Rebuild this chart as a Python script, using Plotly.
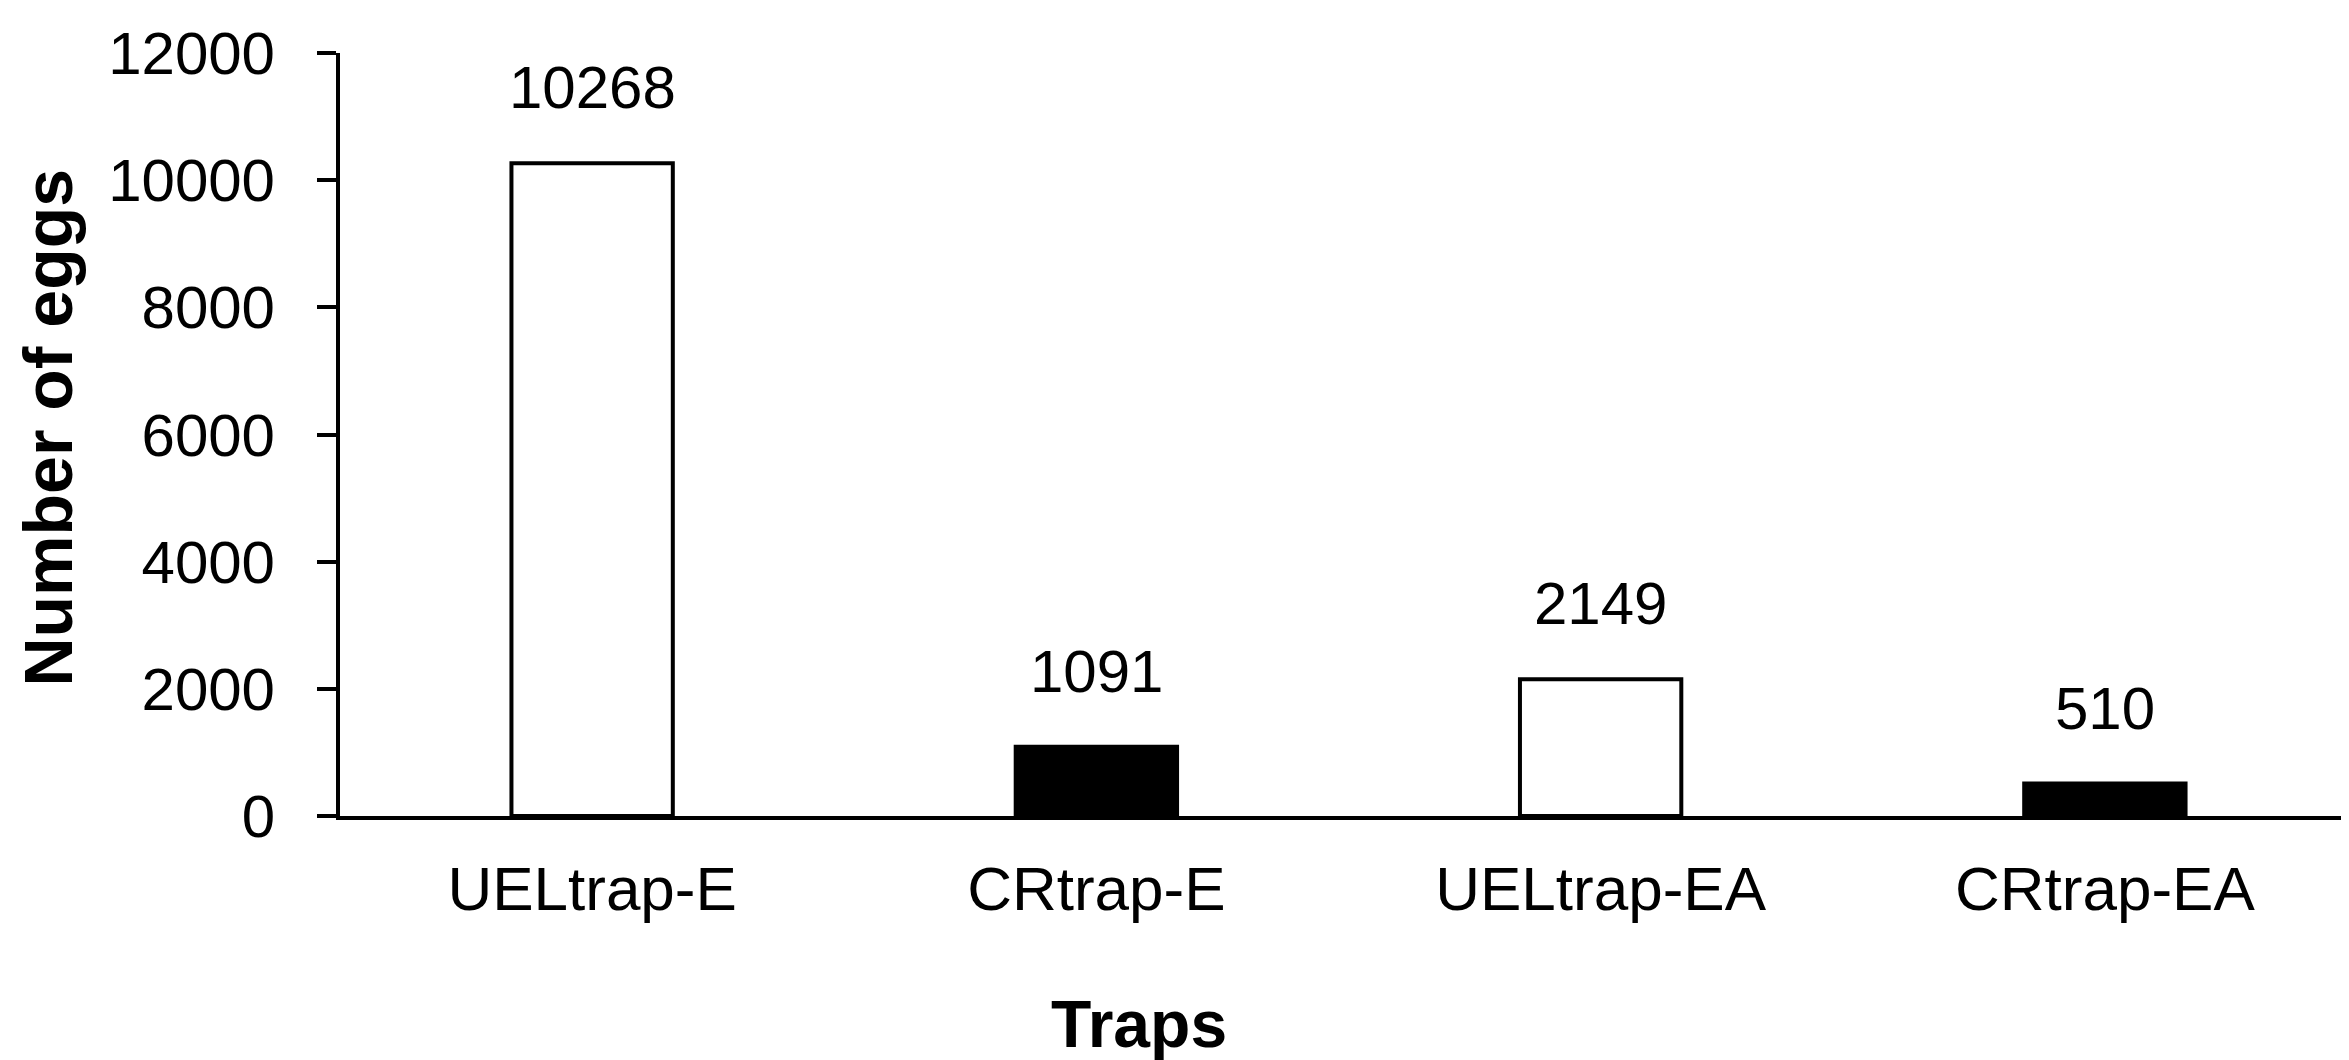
import plotly.graph_objects as go

categories = ["UELtrap-E", "CRtrap-E", "UELtrap-EA", "CRtrap-EA"]
eggs = [10268, 1091, 2149, 510]
bar_colors = ["white", "black", "white", "black"]
y_ticks = [0, 2000, 4000, 6000, 8000, 10000, 12000]
y_tick_text = [str(v) for v in y_ticks]

FONT = "Liberation Sans, Arial, sans-serif"

fig = go.Figure()
fig.add_trace(go.Bar(
    x=categories, y=eggs,
    marker=dict(color=bar_colors, line=dict(color="black", width=4)),
    width=0.32,
    showlegend=False,
))

for c, v in zip(categories, eggs):
    fig.add_annotation(x=c, y=v, text=str(v), showarrow=False,
                       xref="x", yref="y", yanchor="bottom", yshift=40,
                       font=dict(family=FONT, size=60, color="black"))

fig.add_annotation(text="<b>Traps</b>", xref="paper", yref="paper",
                   x=0.396, y=-0.272, xanchor="center", yanchor="middle",
                   showarrow=False, font=dict(family=FONT, size=66, color="black"))
fig.add_annotation(text="<b>Number of eggs</b>", xref="paper", yref="paper",
                   x=-0.1450, y=0.5085, xanchor="center", yanchor="middle",
                   textangle=-90, showarrow=False,
                   font=dict(family=FONT, size=68, color="black"))

fig.update_layout(
    width=2349, height=1060,
    margin=dict(l=332, r=0, t=45, b=252),
    paper_bgcolor="white", plot_bgcolor="white",
    font=dict(family=FONT, color="black"),
    xaxis=dict(showline=True, linecolor="black", linewidth=4, ticks="",
               showgrid=False, zeroline=False,
               tickfont=dict(family=FONT, size=62, color="black"),
               ticklabelstandoff=16),
    yaxis=dict(range=[0, 12000], tickvals=y_ticks, ticktext=y_tick_text,
               showline=True,
               linecolor="black", linewidth=4, ticks="outside", ticklen=19,
               tickwidth=4, tickcolor="black", showgrid=False, zeroline=False,
               tickfont=dict(family=FONT, size=60, color="black"),
               ticklabelstandoff=30),
)

fig.write_html("out.html")
